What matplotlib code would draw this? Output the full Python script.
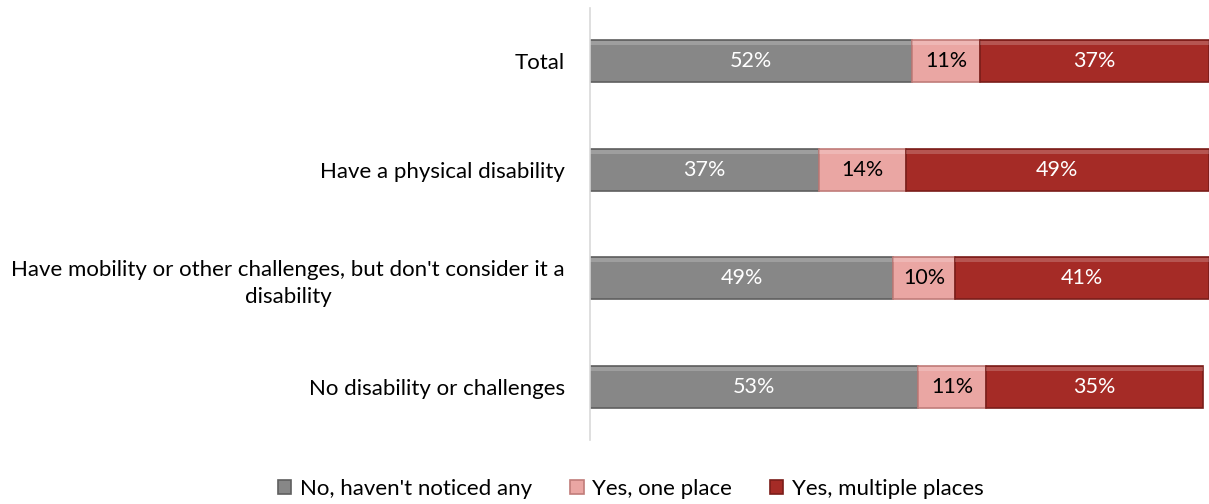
import matplotlib.pyplot as plt

groups = [
    "Total",
    "Have a physical disability",
    "Have mobility or other challenges, but don't consider it a\ndisability",
    "No disability or challenges",
]
series_names = ["No, haven't noticed any", "Yes, one place", "Yes, multiple places"]
no_any = [52, 37, 49, 53]
one_place = [11, 14, 10, 11]
multiple = [37, 49, 41, 35]

colors = ["#878787", "#EAA6A3", "#A52B26"]
edge_colors = ["#5f5f5f", "#c07c79", "#7a1d19"]
text_colors = ["white", "black", "white"]

plt.rcParams['font.family'] = ['Lato', 'DejaVu Sans']

fig = plt.figure(figsize=(12.09, 5.04), dpi=100)
ax = fig.add_axes([0.488, 0.127, 0.512, 0.857])

ypos = list(range(len(groups)))
left = [0] * len(groups)
for vals, name, c, ec, tc in zip([no_any, one_place, multiple], series_names,
                                 colors, edge_colors, text_colors):
    bars = ax.barh(ypos, vals, left=left, height=0.385, color=c,
                   edgecolor=ec, linewidth=1.2, label=name)
    # light strip along the top edge for the bevel look
    ax.barh([y - 0.165 for y in ypos], vals, left=left, height=0.035,
            color="white", alpha=0.2, linewidth=0)
    for b, v in zip(bars, vals):
        ax.text(b.get_x() + b.get_width() / 2, b.get_y() + b.get_height() / 2,
                f"{v}%", ha="center", va="center", color=tc, fontsize=15.5)
    left = [l + v for l, v in zip(left, vals)]

ax.set_xlim(0, 100)
ax.set_ylim(3.49, -0.49)
ax.set_yticks(ypos)
ax.set_yticklabels(groups, fontsize=16, linespacing=1.4)
for lbl in ax.get_yticklabels():
    lbl.set_multialignment("center")
ax.tick_params(axis="y", length=0, pad=18)
ax.tick_params(axis="x", bottom=False, labelbottom=False)
for s in ["top", "right", "bottom"]:
    ax.spines[s].set_visible(False)
ax.spines["left"].set_color("#d9d9d9")
ax.spines["left"].set_linewidth(1.2)

handles, labels = ax.get_legend_handles_labels()
fig.legend(handles, labels, loc="lower center", ncol=3, frameon=False,
           fontsize=16, bbox_to_anchor=(0.522, -0.03), handlelength=0.6,
           handleheight=0.6, handletextpad=0.4, columnspacing=1.7)

fig.savefig("out.png", dpi=100)
